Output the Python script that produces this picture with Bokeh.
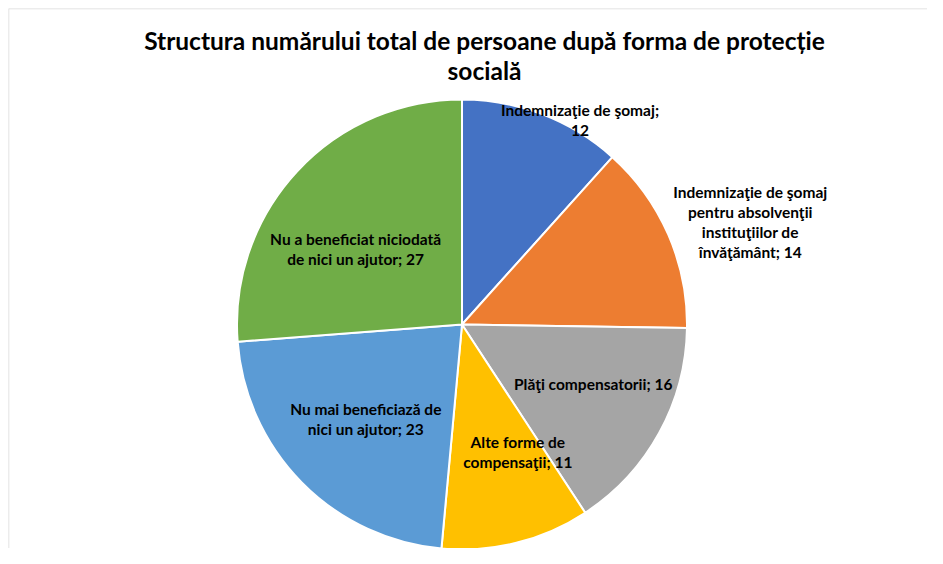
import math
from bokeh.plotting import figure
from bokeh.models import ColumnDataSource, Span
from bokeh.core.properties import value
from bokeh.embed import file_html
from bokeh.resources import INLINE

# ---- data ----
categories = [
    "Indemnizaţie de şomaj",
    "Indemnizaţie de şomaj\npentru absolvenţii\ninstituţiilor de\nînvăţământ",
    "Plăţi compensatorii",
    "Alte forme de\ncompensaţii",
    "Nu mai beneficiază de\nnici un ajutor",
    "Nu a beneficiat niciodată\nde nici un ajutor",
]
values = [12, 14, 16, 11, 23, 27]
colors = ["#4472C4", "#ED7D31", "#A5A5A5", "#FFC000", "#5B9BD5", "#70AD47"]
separators = [";\n", "; ", "; ", "; ", "; ", "; "]
title_text = "Structura numărului total de persoane după forma de protecție\nsocială"

# ---- layout / style ----
W, H = 927, 548
FW, FH = W - 8, H - 8
cx, cy, R = 453.5, 224.0, 225.0
label_r = [1.05, 1.36, 0.64, 0.62, 0.60, 0.58]
label_da = [9.0, 4.0, -4.5, -9.6, 0.0, -7.4]
FONT = "Lato"

total = float(sum(values))
starts, ends, lx, ly, texts = [], [], [], [], []
cum = 0.0
for i, v in enumerate(values):
    a0 = cum / total * 2 * math.pi
    cum += v
    a1 = cum / total * 2 * math.pi
    starts.append(math.pi / 2 - a0)
    ends.append(math.pi / 2 - a1)
    mid = (a0 + a1) / 2 + math.radians(label_da[i])
    r = R * label_r[i]
    lx.append(cx + r * math.sin(mid))
    ly.append(cy + r * math.cos(mid))
    texts.append(f"{categories[i]}{separators[i]}{values[i]}")

src = ColumnDataSource(dict(start=starts, end=ends, color=colors,
                            lx=lx, ly=ly, text=texts))

p = figure(width=W, height=H, x_range=(0, FW), y_range=(0, FH),
           output_backend="svg", toolbar_location=None, min_border=0,
           min_border_left=8, min_border_top=8, match_aspect=False)
p.axis.visible = False
p.grid.visible = False
p.outline_line_color = None
p.background_fill_color = "white"

p.add_layout(Span(location=0, dimension="height", line_color="#D9D9D9", line_width=1.5))
p.add_layout(Span(location=FH, dimension="width", line_color="#D9D9D9", line_width=1.5))

p.wedge(x=cx, y=cy, radius=R, start_angle="start", end_angle="end",
        direction="clock", fill_color="color", line_color="white",
        line_width=2, source=src)

p.text(x="lx", y="ly", text="text", source=src,
       text_font=value(FONT), text_font_style="bold", text_font_size="15.5px",
       text_align="center", text_baseline="middle", text_color="#000000",
       text_line_height=1.1)

p.text(x=[476], y=[493], text=[title_text],
       text_font=value(FONT), text_font_style="bold", text_font_size="24.5px",
       text_align="center", text_baseline="middle", text_color="#000000",
       text_line_height=1.02)

open("out.html", "w").write(file_html(p, INLINE))
